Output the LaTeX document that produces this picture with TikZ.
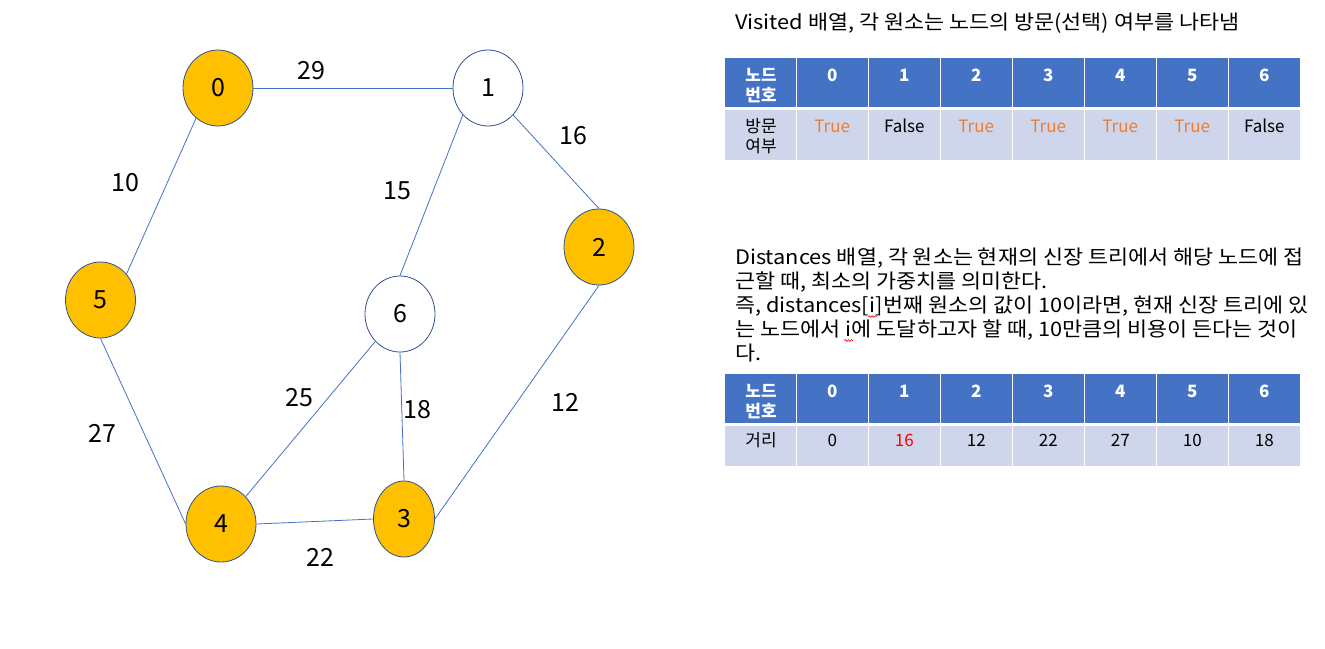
\documentclass[tikz,border=0pt]{standalone}
\usepackage{fontspec}
\usepackage{graphicx}
\setmainfont{Noto Sans CJK KR}
\usetikzlibrary{shapes.geometric,decorations.pathmorphing}
\definecolor{hdrblue}{HTML}{4472C4}
\definecolor{rowblue}{HTML}{CFD5EA}
\definecolor{gold}{HTML}{FFC000}
\definecolor{outlineblue}{HTML}{2F528F}
\definecolor{edgeblue}{HTML}{4472C4}
\definecolor{truecol}{HTML}{ED7D31}
\newcommand{\widetxt}[1]{\scalebox{1.09}[1]{#1}}
\begin{document}
\begin{tikzpicture}[x=1pt,y=-1pt,
  vtx/.style={ellipse, draw=outlineblue, line width=0.8pt, minimum width=70pt, minimum height=76pt, inner sep=0pt, font=\fontsize{25}{30}\selectfont},
  vis/.style={vtx, fill=gold},
  unv/.style={vtx, fill=white},
  edge/.style={draw=edgeblue, line width=0.8pt},
  wlabel/.style={font=\fontsize{25}{30}\selectfont, inner sep=0pt},
  hcell/.style={fill=hdrblue, draw=none, minimum width=70.5pt, inner sep=0pt, anchor=north west},
  dcell/.style={fill=rowblue, draw=none, minimum width=70.5pt, inner sep=0pt, anchor=north west},
  htext/.style={text=white, font=\fontsize{17}{20}\selectfont\bfseries, anchor=base, inner sep=0pt},
  dtext/.style={font=\fontsize{17}{20}\selectfont, anchor=base, inner sep=0pt},
  para/.style={font=\fontsize{20}{24}\selectfont, anchor=base west, inner sep=0pt},
  squig/.style={draw=red, line width=0.6pt, decorate, decoration={snake, amplitude=0.9pt, segment length=3pt}}
]
\fill[white] (0,0) rectangle (1325,648);
\useasboundingbox (0,0) rectangle (1325,648);

% graph vertices
\node[vis] (n0) at (218,88) {0};
\node[unv] (n1) at (488,88) {1};
\node[vis] (n2) at (599,247) {2};
\node[vis, minimum width=61pt] (n3) at (404,519) {3};
\node[vis] (n4) at (221,524) {4};
\node[vis] (n5) at (100.5,300) {5};
\node[unv] (n6) at (400,314) {6};

% edges
\draw[edge] (n0.east) -- (n1.west);
\draw[edge] (n0.234) -- (n5.45);
\draw[edge] (n1.227) -- (n6.north);
\draw[edge] (n1.-47) -- (n2.north);
\draw[edge] (n2.south) -- (n3.east);
\draw[edge] (n6.south) -- (n3.north);
\draw[edge] (n6.228) -- (n4.48);
\draw[edge] (n4.east) -- (n3.west);
\draw[edge] (n5.south) -- (n4.west);

% weights
\node[wlabel] (w01) at (311,71) {29};
\node[wlabel] (w12) at (573,136) {16};
\node[wlabel] (w05) at (125,183) {10};
\node[wlabel] (w16) at (397,191) {15};
\node[wlabel] (w64) at (299,398) {25};
\node[wlabel] (w63) at (417,410) {18};
\node[wlabel] (w23) at (565,402) {12};
\node[wlabel] (w54) at (102,433) {27};
\node[wlabel] (w43) at (320,557) {22};

% title 1
\node[para] (t1) at (735,29.5) {\widetxt{Visited 배열, 각 원소는 노드의 방문(선택) 여부를 나타냄}};

% table 1
\foreach \i in {0,...,7} {
  \node[hcell, minimum height=49pt] (ah\i) at ({725+72*\i},58) {};
  \node[dcell, minimum height=50pt] (ad\i) at ({725+72*\i},110) {};
}
\node[htext] (ah0a) at (761,81) {노드};
\node[htext] (ah0b) at (761,101) {번호};
\foreach \i in {1,...,7} {
  \pgfmathtruncatemacro{\lab}{\i-1}
  \node[htext] (ahl\i) at ({725+72*\i+35.25},81) {\lab};
}
\node[dtext] (ad0a) at (761,132.5) {방문};
\node[dtext] (ad0b) at (761,152.5) {여부};
\foreach \i/\v/\c in {1/True/truecol,2/False/black,3/True/truecol,4/True/truecol,5/True/truecol,6/True/truecol,7/False/black} {
  \node[dtext, text=\c] (adl\i) at ({725+72*\i+35.25},132.5) {\v};
}

% paragraph 2
\node[para] (p1) at (735,264.5) {\widetxt{Distances 배열, 각 원소는 현재의 신장 트리에서 해당 노드에 접}};
\node[para] (p2) at (735,288.5) {\widetxt{근할 때, 최소의 가중치를 의미한다.}};
\node[para] (p3a) at (735,312.5) {\widetxt{즉, distances[}};
\node[para] (p3i) at (p3a.base east) {\widetxt{i}};
\node[para] (p3b) at (p3i.base east) {\widetxt{]번째 원소의 값이 10이라면, 현재 신장 트리에 있}};
\node[para] (p4a) at (735,336.5) {\widetxt{는 노드에서\kern0.22em}};
\node[para] (p4i) at (p4a.base east) {\widetxt{i}};
\node[para] (p4b) at (p4i.base east) {\widetxt{에 도달하고자 할 때, 10만큼의 비용이 든다는 것이}};
\node[para] (p5) at (735,360.5) {\widetxt{다.}};
\draw[squig] ([xshift=-1pt,yshift=-4pt]p3i.base west) -- ([xshift=1pt,yshift=-4pt]p3i.base east);
\draw[squig] ([xshift=-1pt,yshift=-4pt]p4i.base west) -- ([xshift=1pt,yshift=-4pt]p4i.base east);

% table 2
\foreach \i in {0,...,7} {
  \node[hcell, minimum height=49pt] (bh\i) at ({725+72*\i},374) {};
  \node[dcell, minimum height=40pt] (bd\i) at ({725+72*\i},426) {};
}
\node[htext] (bh0a) at (761,397) {노드};
\node[htext] (bh0b) at (761,417) {번호};
\foreach \i in {1,...,7} {
  \pgfmathtruncatemacro{\lab}{\i-1}
  \node[htext] (bhl\i) at ({725+72*\i+35.25},397) {\lab};
}
\node[dtext] (bd0a) at (761,446.5) {거리};
\foreach \i/\v/\c in {1/0/black,2/16/red,3/12/black,4/22/black,5/27/black,6/10/black,7/18/black} {
  \node[dtext, text=\c] (bdl\i) at ({725+72*\i+35.25},446.5) {\v};
}
\end{tikzpicture}
\end{document}
